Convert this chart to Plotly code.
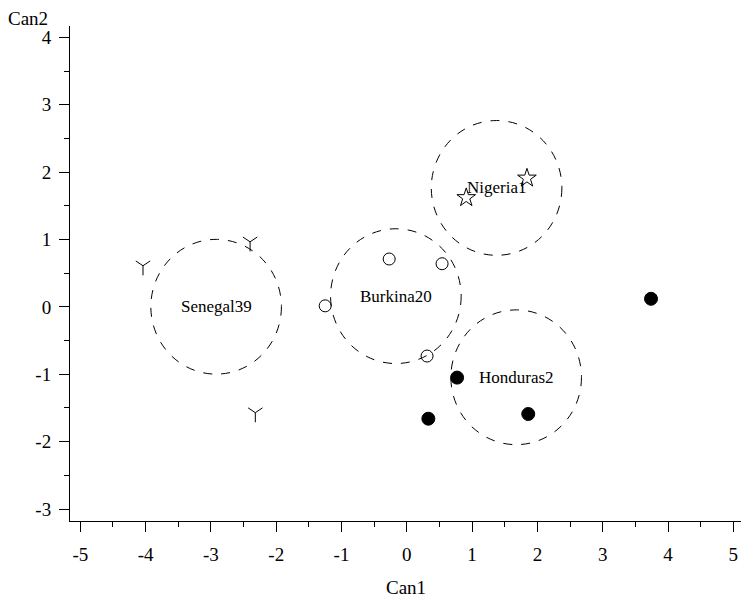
import plotly.graph_objects as go

# Canonical scores per group (Can1, Can2)
groups = ["Senegal39", "Burkina20", "Nigeria1", "Honduras2"]
senegal_x = [-4.04, -2.40, -2.32]
senegal_y = [0.61, 0.965, -1.57]
burkina_x = [-1.25, -0.27, 0.54, 0.31]
burkina_y = [0.015, 0.71, 0.64, -0.73]
nigeria_x = [1.84, 0.91]
nigeria_y = [1.91, 1.62]
honduras_x = [0.77, 0.33, 1.86, 3.74]
honduras_y = [-1.05, -1.66, -1.59, 0.12]
circle_radius = 1.0
x_ticks = [-5, -4, -3, -2, -1, 0, 1, 2, 3, 4, 5]
y_ticks = [-3, -2, -1, 0, 1, 2, 3, 4]
x_tick_text = ["-5", "-4", "-3", "-2", "-1", "0", "1", "2", "3", "4", "5"]
y_tick_text = ["-3", "-2", "-1", "0", "1", "2", "3", "4"]

FONT = "Liberation Serif"

data = [
    (senegal_x, senegal_y, "y-down", 12),
    (burkina_x, burkina_y, "circle-open", 12),
    (nigeria_x, nigeria_y, "star-open", 14),
    (honduras_x, honduras_y, "circle", 13),
]

fig = go.Figure()
shapes = []
annotations = []
for name, (xs, ys, sym, sz) in zip(groups, data):
    cx = sum(xs) / len(xs)
    cy = sum(ys) / len(ys)
    shapes.append(dict(type="circle", xref="x", yref="y",
                       x0=cx - circle_radius, x1=cx + circle_radius,
                       y0=cy - circle_radius, y1=cy + circle_radius,
                       line=dict(color="black", width=1, dash="dash"),
                       layer="below"))
    annotations.append(dict(x=cx, y=cy, xref="x", yref="y", text=name,
                            showarrow=False, font=dict(family=FONT, size=17, color="black")))
    fig.add_trace(go.Scatter(
        x=xs, y=ys, mode="markers", name=name,
        marker=dict(symbol=sym, size=sz, color="black",
                    line=dict(color="black", width=1)),
    ))

annotations.append(dict(text="Can2", xref="paper", yref="paper", x=-0.0626, y=1.016,
                        xanchor="center", yanchor="middle", showarrow=False,
                        font=dict(family=FONT, size=19, color="black")))
annotations.append(dict(text="Can1", xref="paper", yref="paper", x=0.5007, y=-0.135,
                        xanchor="center", yanchor="middle", showarrow=False,
                        font=dict(family=FONT, size=19, color="black")))

axis_common = dict(showline=True, linecolor="black", linewidth=1,
                   showgrid=False, zeroline=False, ticks="outside", ticklen=10,
                   tickcolor="black", tickwidth=1,
                   tickfont=dict(family=FONT, size=19, color="black"),
                   minor=dict(ticks="outside", ticklen=5, dtick=0.5,
                              tickcolor="black", tickwidth=1, showgrid=False))

fig.update_layout(
    width=741, height=601,
    margin=dict(l=70, r=0, t=26, b=80),
    font=dict(family=FONT, color="black"),
    plot_bgcolor="white", paper_bgcolor="white",
    showlegend=False,
    shapes=shapes, annotations=annotations,
    xaxis=dict(range=[-5.158, 5.118], tickvals=x_ticks, ticktext=x_tick_text,
               ticklabelstandoff=6, **axis_common),
    yaxis=dict(range=[-3.178, 4.168], tickvals=y_ticks, ticktext=y_tick_text,
               ticklabelstandoff=4, **axis_common),
)

fig.write_html("out.html", config={"displayModeBar": False},
               post_script="document.body.style.margin='0';document.body.style.overflow='hidden';")
